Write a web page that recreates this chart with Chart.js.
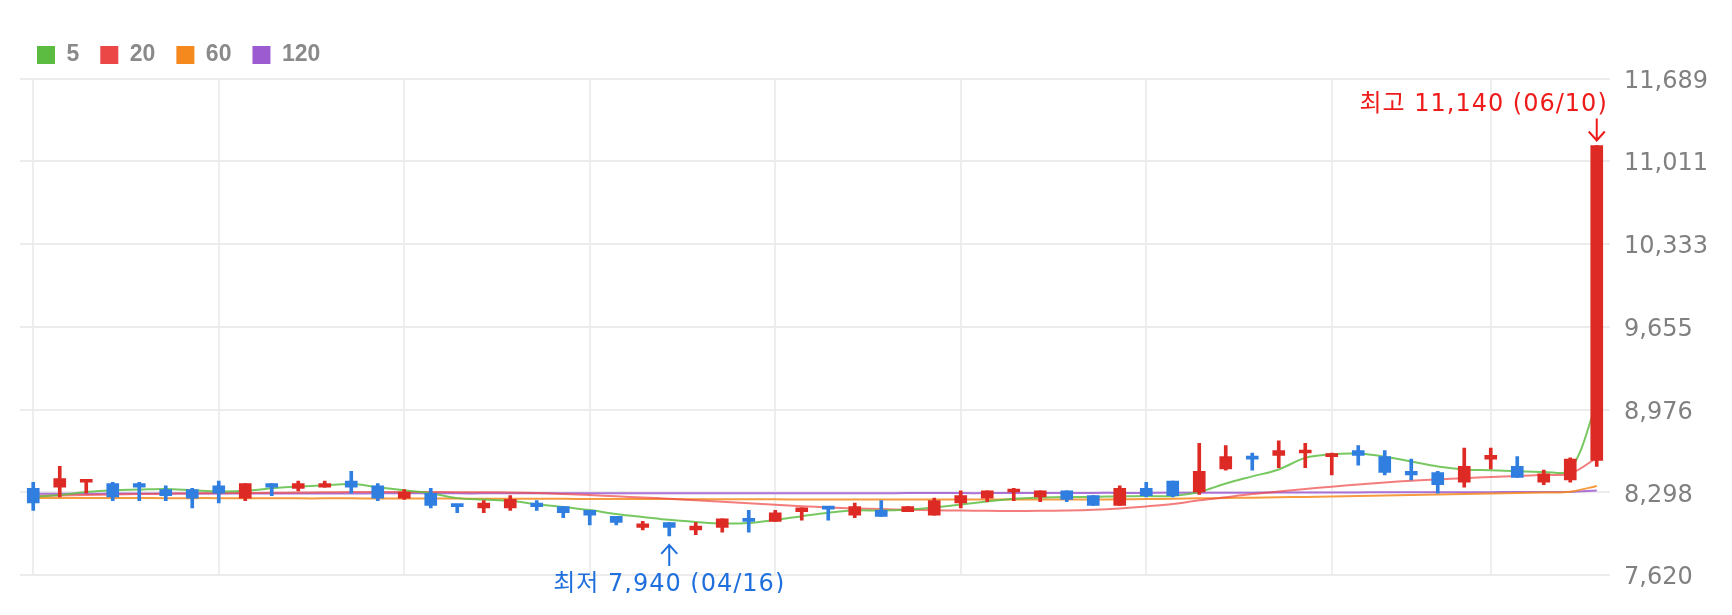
<!DOCTYPE html>
<html>
<head>
    <title>일봉 차트</title>
    <style>
        body { margin: 0; background: #fff; }
        #wrap { width: 1732px; height: 593px; position: relative; }
    </style>
</head>
<body>
    <div id="wrap"><canvas id="chart"></canvas></div>

    <script src="https://cdn.jsdelivr.net/npm/chart.js"></script>
    <script>
        // 날짜 (2024)
        const dates = [
            '03/12','03/13','03/14','03/15','03/18','03/19','03/20','03/21','03/22','03/25',
            '03/26','03/27','03/28','03/29','04/01','04/02','04/03','04/04','04/05','04/08',
            '04/09','04/11','04/12','04/15','04/16','04/17','04/18','04/19','04/22','04/23',
            '04/24','04/25','04/26','04/29','04/30','05/02','05/03','05/07','05/08','05/09',
            '05/10','05/13','05/14','05/16','05/17','05/20','05/21','05/22','05/23','05/24',
            '05/27','05/28','05/29','05/30','05/31','06/03','06/04','06/05','06/07','06/10'
        ];

        // 시가 / 고가 / 저가 / 종가
        const opens = [
            8330, 8340, 8380, 8370, 8370, 8320, 8320, 8350, 8250, 8370,
            8330, 8340, 8390, 8350, 8250, 8290, 8200, 8170, 8170, 8210,
            8180, 8150, 8100, 8010, 8050, 7990, 8010, 8080, 8060, 8140,
            8180, 8110, 8150, 8140, 8110, 8210, 8250, 8300, 8260, 8310,
            8270, 8190, 8330, 8390, 8300, 8490, 8590, 8600, 8620, 8590,
            8640, 8590, 8470, 8460, 8380, 8570, 8510, 8380, 8400, 8560
        ];
        const highs = [
            8380, 8510, 8400, 8380, 8380, 8350, 8330, 8390, 8370, 8370,
            8390, 8390, 8470, 8370, 8320, 8330, 8200, 8230, 8270, 8230,
            8180, 8150, 8100, 8060, 8050, 8050, 8080, 8150, 8150, 8170,
            8180, 8210, 8230, 8180, 8250, 8310, 8310, 8330, 8310, 8310,
            8270, 8350, 8380, 8390, 8700, 8680, 8620, 8720, 8700, 8620,
            8680, 8640, 8570, 8470, 8660, 8660, 8590, 8480, 8580, 11140
        ];
        const lows = [
            8150, 8260, 8290, 8230, 8230, 8230, 8170, 8210, 8230, 8270,
            8310, 8340, 8290, 8230, 8240, 8170, 8130, 8130, 8150, 8150,
            8090, 8030, 8030, 7990, 7940, 7950, 7970, 7970, 8060, 8070,
            8070, 8090, 8100, 8140, 8110, 8170, 8220, 8230, 8220, 8220,
            8190, 8190, 8260, 8260, 8280, 8480, 8480, 8500, 8500, 8440,
            8520, 8440, 8400, 8290, 8340, 8490, 8420, 8360, 8380, 8510
        ];
        const closes = [
            8210, 8410, 8390, 8260, 8340, 8270, 8250, 8290, 8370, 8340,
            8370, 8370, 8340, 8250, 8300, 8190, 8180, 8210, 8240, 8180,
            8130, 8110, 8050, 8040, 8010, 8020, 8080, 8060, 8130, 8170,
            8160, 8180, 8100, 8180, 8230, 8270, 8310, 8320, 8310, 8240,
            8190, 8330, 8270, 8270, 8470, 8590, 8570, 8640, 8640, 8610,
            8600, 8460, 8440, 8360, 8510, 8600, 8420, 8450, 8570, 11140
        ];

        // 이동평균선
        const ma5 = [
            8260, 8275, 8300, 8315, 8320, 8325, 8315, 8305, 8310, 8330,
            8345, 8355, 8365, 8340, 8315, 8290, 8250, 8238, 8228, 8200,
            8178, 8152, 8120, 8096, 8072, 8055, 8042, 8047, 8072, 8102,
            8130, 8150, 8148, 8156, 8173, 8198, 8222, 8245, 8255, 8260,
            8260, 8265, 8267, 8268, 8300, 8370, 8428, 8485, 8580, 8610,
            8615, 8590, 8550, 8510, 8485, 8478, 8470, 8465, 8485, 9030
        ];
        const ma20 = [
            8268, 8272, 8276, 8280, 8283, 8286, 8288, 8290, 8292, 8294,
            8296, 8298, 8300, 8301, 8301, 8300, 8299, 8298, 8296, 8292,
            8284, 8275, 8265, 8255, 8245, 8233, 8221, 8209, 8196, 8184,
            8174, 8166, 8160, 8155, 8151, 8148, 8146, 8145, 8146, 8149,
            8155, 8166, 8182, 8202, 8232, 8258, 8283, 8304, 8324, 8344,
            8362, 8378, 8392, 8403, 8413, 8423, 8432, 8441, 8452, 8580
        ];
        const ma60 = [
            8252, 8252, 8251, 8251, 8251, 8250, 8250, 8250, 8249, 8249,
            8248, 8248, 8248, 8247, 8247, 8246, 8246, 8245, 8245, 8244,
            8244, 8243, 8243, 8242, 8242, 8241, 8241, 8240, 8240, 8239,
            8239, 8239, 8238, 8238, 8238, 8238, 8238, 8238, 8238, 8238,
            8239, 8240, 8242, 8245, 8248, 8251, 8254, 8257, 8260, 8264,
            8268, 8272, 8276, 8280, 8284, 8288, 8292, 8296, 8302, 8350
        ];
        const ma120 = [
            8286, 8286, 8286, 8287, 8287, 8287, 8287, 8288, 8288, 8288,
            8288, 8288, 8288, 8289, 8289, 8289, 8289, 8289, 8290, 8290,
            8290, 8290, 8290, 8290, 8290, 8290, 8290, 8290, 8290, 8290,
            8290, 8290, 8290, 8291, 8291, 8291, 8291, 8292, 8292, 8292,
            8293, 8293, 8293, 8294, 8294, 8295, 8295, 8296, 8296, 8297,
            8297, 8298, 8298, 8298, 8299, 8299, 8300, 8300, 8301, 8312
        ];

        // Y축 눈금
        const yTicks = [7620, 8298, 8976, 9655, 10333, 11011, 11689];
        // 세로 격자선 위치 (인덱스)
        const gridIdx = [0, 7, 14, 21, 28, 35, 42, 49, 55];

        const UP = '#dd2a24';
        const DOWN = '#2f7ee0';
        const maNames = ['5', '20', '60', '120'];
        const maColors = ['#5cbc42', '#eb4747', '#f5891d', '#9d5bd2'];
        const maLines = ['rgba(96,190,70,0.85)', 'rgba(238,70,70,0.7)', 'rgba(245,137,29,0.85)', 'rgba(157,91,210,0.85)'];

        const candleColor = opens.map((o, i) => closes[i] >= o ? UP : DOWN);
        const fmt = v => v.toLocaleString('en-US');

        // 최고/최저 표시
        const markPlugin = {
            id: 'hiLo',
            afterDatasetsDraw(chart) {
                const ctx = chart.ctx;
                const xs = chart.scales.x, ys = chart.scales.y;
                const hi = highs.indexOf(Math.max(...highs));
                const lo = lows.indexOf(Math.min(...lows));
                ctx.save();
                ctx.font = "24px 'DejaVu Sans', 'Noto Sans CJK KR'";
                ctx.letterSpacing = '1px';
                ctx.textBaseline = 'middle';
                ctx.lineWidth = 2;

                // 최고
                let x = xs.getPixelForValue(hi), y = ys.getPixelForValue(highs[hi]);
                ctx.fillStyle = ctx.strokeStyle = '#ee1b1b';
                ctx.textAlign = 'right';
                ctx.fillText('최고 ' + fmt(highs[hi]) + ' (' + dates[hi] + ')', x + 11, y - 41);
                ctx.beginPath();
                ctx.moveTo(x, y - 27); ctx.lineTo(x, y - 5);
                ctx.moveTo(x - 8, y - 14); ctx.lineTo(x, y - 5); ctx.lineTo(x + 8, y - 14);
                ctx.stroke();

                // 최저
                x = xs.getPixelForValue(lo); y = ys.getPixelForValue(lows[lo]);
                ctx.fillStyle = ctx.strokeStyle = '#1f6fdc';
                ctx.textAlign = 'center';
                ctx.beginPath();
                ctx.moveTo(x, y + 9); ctx.lineTo(x, y + 30);
                ctx.moveTo(x - 8, y + 18); ctx.lineTo(x, y + 9); ctx.lineTo(x + 8, y + 18);
                ctx.stroke();
                ctx.fillText('최저 ' + fmt(lows[lo]) + ' (' + dates[lo] + ')', x, y + 49);
                ctx.restore();
            }
        };

        // 범례 위치 보정
        const legendShift = {
            id: 'legendShift',
            afterLayout(chart) {
                const l = chart.legend;
                l.left -= 4; l.right -= 4;
                l.top -= 2; l.bottom -= 2;
            }
        };

        const maSets = [ma5, ma20, ma60, ma120].map((d, i) => ({
            type: 'line',
            label: maNames[i],
            data: d,
            borderColor: maLines[i],
            backgroundColor: maColors[i],
            borderWidth: 2,
            pointRadius: 0,
            tension: 0.35,
            fill: false,
            order: 3
        }));

        new Chart(document.getElementById('chart'), {
            type: 'bar',
            data: {
                labels: dates,
                datasets: [
                    ...maSets,
                    {
                        label: 'wick',
                        data: lows.map((l, i) => [l, highs[i]]),
                        backgroundColor: candleColor,
                        barThickness: 3,
                        grouped: false,
                        order: 2
                    },
                    {
                        label: 'body',
                        data: opens.map((o, i) => [o, closes[i]]),
                        backgroundColor: candleColor,
                        barThickness: 12,
                        minBarLength: 3,
                        grouped: false,
                        order: 1
                    }
                ]
            },
            options: {
                responsive: true,
                maintainAspectRatio: false,
                animation: false,
                layout: { padding: { left: 20, right: 0, top: 24.5, bottom: 18 } },
                plugins: {
                    tooltip: { enabled: false },
                    legend: {
                        position: 'top',
                        align: 'start',
                        labels: {
                            boxWidth: 18,
                            boxHeight: 18,
                            padding: 21,
                            color: '#8a8a8a',
                            font: { family: "'Liberation Sans', Arial", size: 23, weight: 'bold' },
                            generateLabels: chart => Chart.defaults.plugins.legend.labels.generateLabels(chart)
                                .filter(l => l.datasetIndex < 4)
                                .map(l => ({ ...l, fillStyle: maColors[l.datasetIndex], strokeStyle: maColors[l.datasetIndex], lineWidth: 0 }))
                        }
                    }
                },
                scales: {
                    x: {
                        type: 'category',
                        offset: true,
                        border: { display: false },
                        grid: {
                            offset: false,
                            drawTicks: false,
                            lineWidth: 2,
                            color: c => gridIdx.includes(c.index) ? '#eeeeee' : 'rgba(0,0,0,0)'
                        },
                        ticks: { display: false, autoSkip: false }
                    },
                    y: {
                        position: 'right',
                        min: yTicks[0],
                        max: yTicks[yTicks.length - 1],
                        border: { display: false },
                        grid: { color: '#ececec', lineWidth: 2, drawTicks: false },
                        afterBuildTicks: axis => { axis.ticks = yTicks.map(v => ({ value: v })); },
                        afterFit: axis => {
                            axis.width = 122;
                            axis.paddingTop = 0;
                            axis.paddingBottom = 0;
                        },
                        ticks: {
                            padding: 14,
                            labelOffset: 3,
                            color: '#808080',
                            font: { family: "'DejaVu Sans'", size: 24 },
                            callback: v => fmt(v)
                        }
                    }
                }
            },
            plugins: [markPlugin, legendShift]
        });
    </script>
</body>
</html>
